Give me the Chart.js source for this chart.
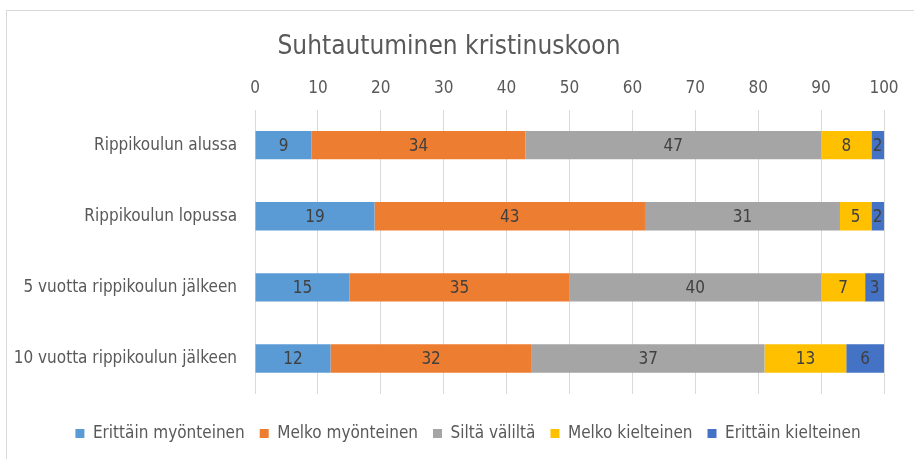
<!DOCTYPE html>
<html>
<head>
<meta charset="utf-8">
<script src="https://cdn.jsdelivr.net/npm/chart.js@4"></script>
<style>
  html, body { margin: 0; padding: 0; background: #fff; overflow: hidden; }
  #kehys { position: absolute; left: 6px; top: 10px; width: 2000px; height: 2000px;
           border-left: 1px solid #d9d9d9; border-top: 1px solid #d9d9d9; }
  #wrap { position: absolute; left: 0; top: 0; width: 914px; height: 459px; }
</style>
</head>
<body>
<div id="kehys"></div>
<div id="wrap"><canvas id="kaavio"></canvas></div>
<script>
const kategoriat = [
  "Rippikoulun alussa",
  "Rippikoulun lopussa",
  "5 vuotta rippikoulun jälkeen",
  "10 vuotta rippikoulun jälkeen"
];
const sarjat = ["Erittäin myönteinen", "Melko myönteinen", "Siltä väliltä", "Melko kielteinen", "Erittäin kielteinen"];
const erittainMyonteinen = [9, 19, 15, 12];
const melkoMyonteinen = [34, 43, 35, 32];
const siltaValilta = [47, 31, 40, 37];
const melkoKielteinen = [8, 5, 7, 13];
const erittainKielteinen = [2, 2, 3, 6];
const varit = ["#5b9bd5", "#ed7d31", "#a5a5a5", "#ffc000", "#4472c4"];

const fontti = "'Liberation Sans Narrow', 'DejaVu Sans Condensed', 'Open Sans', sans-serif";

// arvot palkkien keskelle
const arvoTekstit = {
  id: "arvoTekstit",
  afterDatasetsDraw(chart) {
    const ctx = chart.ctx;
    ctx.save();
    ctx.font = "17px " + fontti;
    ctx.fillStyle = "#404040";
    ctx.textAlign = "center";
    ctx.textBaseline = "middle";
    chart.data.datasets.forEach((ds, i) => {
      chart.getDatasetMeta(i).data.forEach((el, j) => {
        const x = (el.x + el.base) / 2;
        ctx.fillText(ds.data[j], x, el.y + 1);
      });
    });
    ctx.restore();
  }
};

// legenda hieman oikealle, kuten alkuperäisessä
const legendaSiirto = {
  id: "legendaSiirto",
  afterLayout(chart) {
    chart.legend.left += 38;
  }
};

const aineistot = [erittainMyonteinen, melkoMyonteinen, siltaValilta, melkoKielteinen, erittainKielteinen];

new Chart(document.getElementById("kaavio"), {
  type: "bar",
  data: {
    labels: kategoriat,
    datasets: sarjat.map((nimi, i) => ({
      label: nimi,
      data: aineistot[i],
      backgroundColor: varit[i],
      borderWidth: 0,
      barPercentage: 0.4,
      categoryPercentage: 1
    }))
  },
  options: {
    indexAxis: "y",
    responsive: true,
    maintainAspectRatio: false,
    animation: false,
    layout: { padding: { left: 14, right: 30, top: 32, bottom: 7 } },
    plugins: {
      title: {
        display: true,
        text: "Suhtautuminen kristinuskoon",
        color: "#595959",
        font: { family: fontti, size: 26, weight: "normal" },
        padding: { top: 0, bottom: 4 }
      },
      legend: {
        position: "bottom",
        labels: {
          color: "#595959",
          font: { family: fontti, size: 17 },
          boxWidth: 9,
          boxHeight: 9,
          padding: 15
        }
      },
      tooltip: { enabled: false }
    },
    scales: {
      x: {
        position: "top",
        stacked: true,
        min: 0,
        max: 100,
        ticks: { stepSize: 10, color: "#595959", font: { family: fontti, size: 17 }, padding: 11 },
        grid: { color: "#d9d9d9", drawTicks: false },
        border: { display: false }
      },
      // tyhjä akseli: väli kaavion ja legendan väliin
      xAla: {
        type: "linear",
        axis: "x",
        position: "bottom",
        min: 0,
        max: 100,
        ticks: { display: false },
        grid: { display: false, drawTicks: false },
        border: { display: false },
        afterFit(s) { s.height = 16; }
      },
      y: {
        stacked: true,
        ticks: { color: "#595959", font: { family: fontti, size: 17 }, padding: 18 },
        grid: { display: false, drawTicks: false },
        border: { display: false },
        afterFit(s) { s.width = 241; }
      }
    }
  },
  plugins: [arvoTekstit, legendaSiirto]
});
</script>
</body>
</html>
